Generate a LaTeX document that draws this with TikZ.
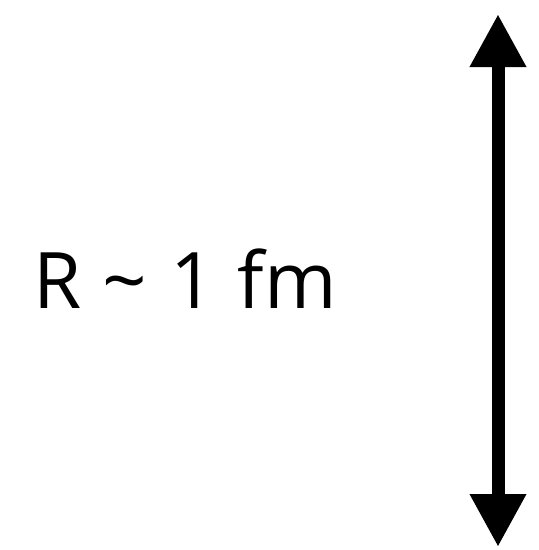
\documentclass[tikz,border=0pt]{standalone}
\usepackage{fontspec}
\setmainfont{Open Sans}
\usetikzlibrary{arrows.meta,positioning}

\begin{document}
\begin{tikzpicture}[
  x=1pt, y=-1pt,
  label/.style={inner sep=0pt, anchor=base west, font=\fontsize{78}{80}\selectfont},
  arrow/.style={{Triangle[length=53pt,width=53pt]}-{Triangle[length=53pt,width=53pt]}, line width=13pt}
]
\useasboundingbox (0,0) rectangle (539,550);
\node[label] (radius) at (33,308) {R\hspace{0.27em}\textasciitilde\hspace{0.3em}1\hspace{0.29em}fm};
\coordinate (top) at (498,14);
\coordinate (bottom) at (498,547);
\draw[arrow] (top) -- (bottom);
\end{tikzpicture}
\end{document}
